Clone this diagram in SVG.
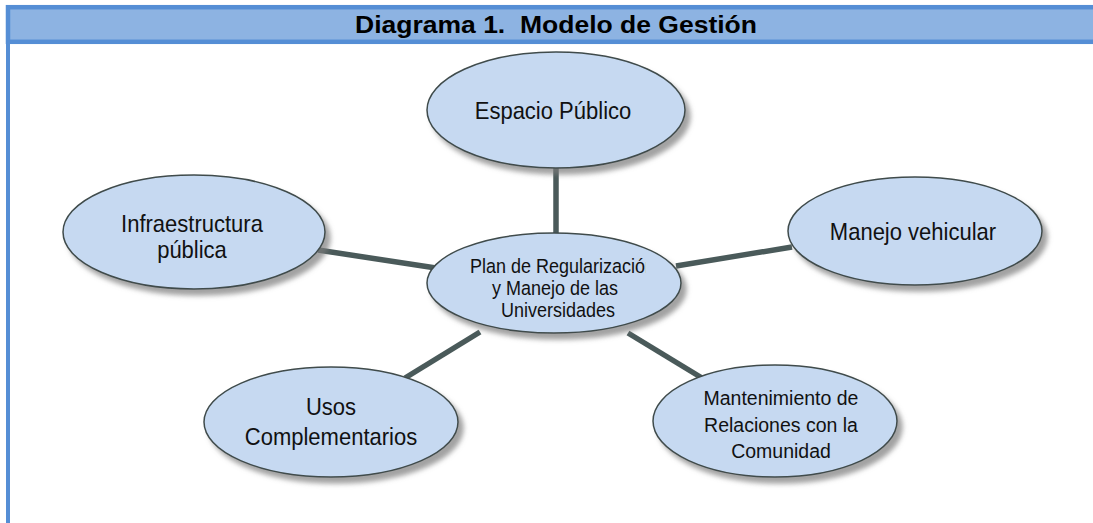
<svg xmlns="http://www.w3.org/2000/svg" width="1093" height="523" viewBox="0 0 1093 523">
<defs>
<style>
.node ellipse{fill:#C6D9F1;stroke:#3F4B4B;stroke-width:1.5;filter:url(#sh)}
.node text{font-family:"Liberation Sans",Arial,sans-serif;fill:#111;text-anchor:middle}
.big{font-size:24px}
.mid{font-size:21px}
.sm{font-size:19.5px}
.conn line{stroke:#4A5A5A;stroke-width:5.5}
</style>
<filter id="sh" x="-20%" y="-20%" width="150%" height="150%">
<feDropShadow dx="5" dy="6" stdDeviation="2.5" flood-color="#7a7a7a" flood-opacity="0.7"/>
</filter>
<clipPath id="cc"><rect x="420" y="240" width="226" height="100"/></clipPath>
</defs>
<rect width="1093" height="523" fill="#fff"/>
<g id="frame">
<rect x="8" y="7.2" width="1092" height="34.6" fill="#8DB3E2" stroke="#558ED5" stroke-width="4.5"/>
<line x1="8" y1="44" x2="8" y2="523" stroke="#558ED5" stroke-width="4"/>
<text x="556" y="33" xml:space="preserve" font-family="'Liberation Sans',Arial,sans-serif" font-weight="bold" font-size="23" text-anchor="middle" textLength="402" lengthAdjust="spacingAndGlyphs" fill="#000">Diagrama 1.  Modelo de Gestión</text>
</g>
<g id="connectors" class="conn">
<line x1="556" y1="165" x2="556" y2="236"/>
<line x1="318" y1="250" x2="436" y2="268"/>
<line x1="792" y1="247" x2="676" y2="266"/>
<line x1="405" y1="378" x2="480" y2="332"/>
<line x1="702" y1="378" x2="628" y2="333"/>
</g>
<g id="espacio" class="node">
<ellipse cx="556" cy="110" rx="129" ry="58"/>
<text class="big" x="553" y="119" transform="matrix(0.917 0 0 1 45.9 0)">Espacio Público</text>
</g>
<g id="infraestructura" class="node">
<ellipse cx="194" cy="232" rx="131" ry="57"/>
<text class="big" x="192" y="232" transform="matrix(0.917 0 0 1 15.94 0)">Infraestructura</text>
<text class="big" x="192" y="258" transform="matrix(0.917 0 0 1 15.94 0)">pública</text>
</g>
<g id="manejo" class="node">
<ellipse cx="915" cy="231" rx="127" ry="54"/>
<text class="big" x="913" y="240" transform="matrix(0.917 0 0 1 75.78 0)">Manejo vehicular</text>
</g>
<g id="centro" class="node">
<ellipse cx="554" cy="283" rx="127" ry="50"/>
<g clip-path="url(#cc)">
<text class="sm" x="470" y="273" style="text-anchor:start" transform="matrix(0.923 0 0 1 36.19 0)">Plan de Regularización</text>
</g>
<text class="sm" x="555" y="295" transform="matrix(0.923 0 0 1 42.7 0)">y Manejo de las</text>
<text class="sm" x="558" y="317" transform="matrix(0.923 0 0 1 42.97 0)">Universidades</text>
</g>
<g id="usos" class="node">
<ellipse cx="331" cy="422" rx="127" ry="55"/>
<text class="big" x="331" y="415" transform="matrix(0.917 0 0 1 27.47 0)">Usos</text>
<text class="big" x="331" y="445" transform="matrix(0.917 0 0 1 27.47 0)">Complementarios</text>
</g>
<g id="mantenimiento" class="node">
<ellipse cx="775" cy="421" rx="122" ry="56"/>
<text class="mid" x="781" y="405" transform="matrix(0.929 0 0 1 55.45 0)">Mantenimiento de</text>
<text class="mid" x="781" y="432" transform="matrix(0.929 0 0 1 55.45 0)">Relaciones con la</text>
<text class="mid" x="781" y="458" transform="matrix(0.929 0 0 1 55.45 0)">Comunidad</text>
</g>
</svg>
